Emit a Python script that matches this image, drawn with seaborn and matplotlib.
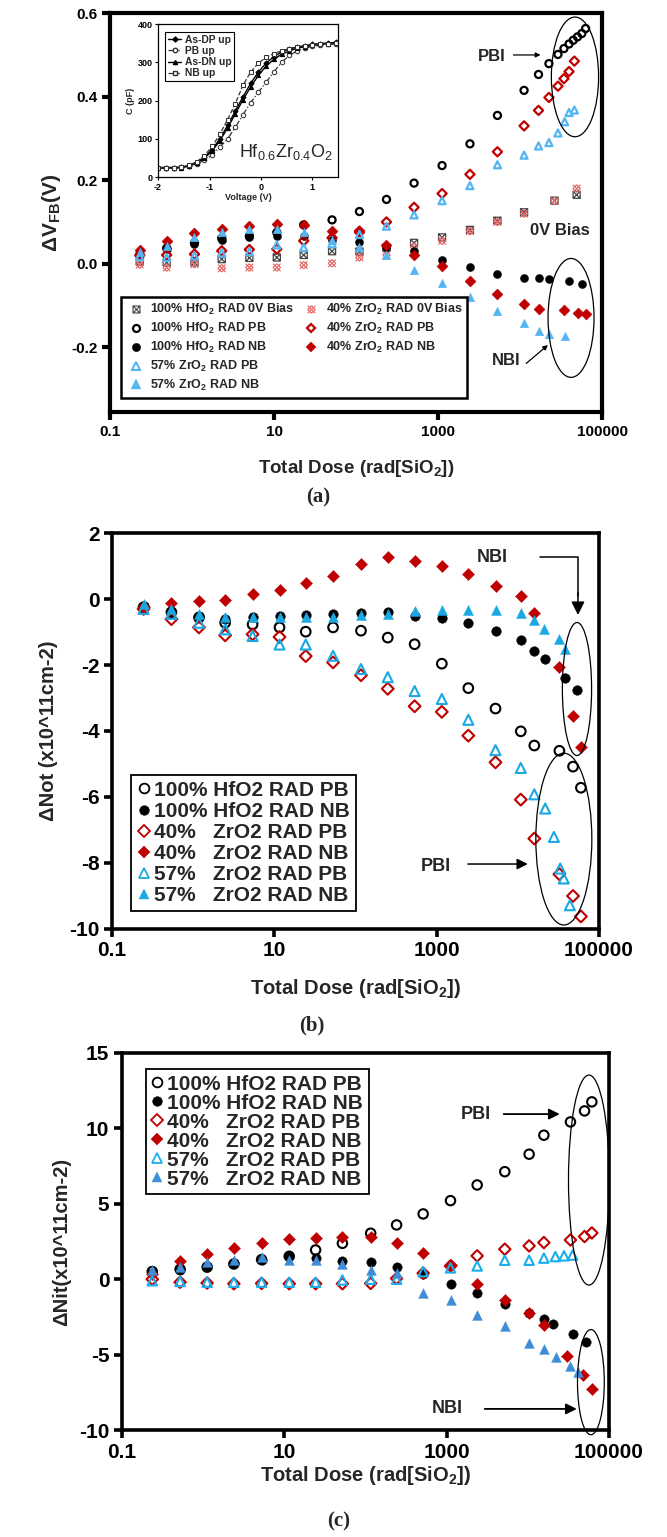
import numpy as np
import pandas as pd
import matplotlib
matplotlib.use('Agg')
import matplotlib.pyplot as plt
import seaborn as sns
from matplotlib.lines import Line2D
from matplotlib.patches import Ellipse
from matplotlib.path import Path
from matplotlib.ticker import FixedLocator, FixedFormatter, FormatStrFormatter, NullLocator

# ---------------- data: panel (a) dVFB ----------------
dose_a = [0.23, 0.49, 1.07, 2.3, 5.0, 10.8, 23, 51, 110, 235, 510, 1120, 2450, 5300, 11200]
dose_a_0v = dose_a + [26300, 49000]
hf_0v_a = [0.005, 0.003, 0.003, 0.011, 0.014, 0.015, 0.021, 0.030, 0.029, 0.038, 0.050, 0.063, 0.081, 0.103, 0.123, 0.151, 0.165]
zr40_0v_a = [-0.002, -0.009, -0.001, -0.011, -0.009, -0.009, -0.003, 0.001, 0.015, 0.021, 0.040, 0.055, 0.078, 0.100, 0.120, 0.150, 0.180]
dose_a_hfpb = dose_a + [16800, 22500, 29000, 34300, 39600, 44600, 50200, 56700, 63000]
hf_pb_a = [0.022, 0.037, 0.05, 0.061, 0.066, 0.075, 0.093, 0.105, 0.125, 0.154, 0.193, 0.235, 0.287, 0.355, 0.415,
           0.453, 0.479, 0.501, 0.515, 0.526, 0.535, 0.543, 0.551, 0.563]
dose_a_hfnb = dose_a + [16800, 22500, 39600, 56700]
hf_nb_a = [0.02, 0.035, 0.047, 0.058, 0.063, 0.067, 0.066, 0.057, 0.053, 0.039, 0.030, 0.009, -0.007, -0.025, -0.033,
           -0.035, -0.037, -0.041, -0.049]
dose_a_zr40pb = dose_a + [16800, 22500, 29000, 34300, 39600, 46000]
zr40_pb_a = [0.020, 0.021, 0.023, 0.031, 0.034, 0.035, 0.055, 0.062, 0.078, 0.100, 0.135, 0.168, 0.214, 0.268, 0.330,
             0.367, 0.398, 0.425, 0.443, 0.460, 0.485]
dose_a_zr40nb = dose_a + [16800, 34300, 51000, 63000]
zr40_nb_a = [0.033, 0.055, 0.074, 0.083, 0.091, 0.095, 0.093, 0.079, 0.077, 0.044, 0.022, -0.005, -0.042, -0.073, -0.097,
             -0.109, -0.111, -0.117, -0.121]
dose_a_zr57pb = dose_a + [16800, 22500, 29000, 35000, 39600, 46000]
zr57_pb_a = [0.017, 0.015, 0.019, 0.026, 0.029, 0.045, 0.039, 0.048, 0.070, 0.090, 0.117, 0.151, 0.187, 0.237, 0.260,
             0.282, 0.290, 0.313, 0.340, 0.362, 0.368]
dose_a_zr57nb = dose_a + [16800, 22500, 35000]
zr57_nb_a = [0.027, 0.043, 0.063, 0.075, 0.082, 0.083, 0.075, 0.058, 0.039, 0.020, -0.015, -0.047, -0.079, -0.113, -0.143,
             -0.161, -0.167, -0.173]

# inset C-V data
volt = [-2.0, -1.85, -1.7, -1.55, -1.4, -1.25, -1.1, -0.95, -0.8, -0.65, -0.5, -0.35, -0.2, -0.05, 0.1, 0.25,
        0.4, 0.55, 0.7, 0.85, 1.0, 1.15, 1.3, 1.45]
cv_asdp = [25, 25, 25, 26, 30, 38, 52, 72, 100, 135, 172, 210, 245, 275, 298, 315, 327, 335, 340, 344, 347, 349, 351, 352]
cv_pb = [24, 24, 24, 25, 28, 34, 44, 58, 78, 100, 130, 163, 195, 222, 248, 275, 300, 318, 330, 337, 342, 345, 347, 348]
cv_asdn = [24, 24, 24, 25, 29, 36, 50, 68, 95, 128, 165, 202, 236, 266, 290, 308, 321, 330, 337, 341, 345, 347, 349, 350]
cv_nb = [25, 25, 25, 26, 31, 40, 56, 80, 112, 150, 192, 240, 275, 298, 313, 323, 330, 336, 340, 344, 346, 348, 349, 350]

# ---------------- data: panel (b) dNot ----------------
dose_b = [0.245, 0.54, 1.18, 2.48, 5.4, 11.6, 24.4, 53, 117, 250, 536, 1160, 2460, 5320, 10900, 16000]
dose_b_hfpb = dose_b + [32600, 48000, 60000]
hf_pb_b = [-0.25, -0.40, -0.56, -0.72, -0.77, -0.86, -0.99, -0.86, -0.96, -1.17, -1.37, -1.96, -2.70, -3.32, -4.01,
           -4.44, -4.60, -5.08, -5.72]
dose_b_hfnb = dose_b + [21800, 37700, 54300]
hf_nb_b = [-0.22, -0.38, -0.52, -0.60, -0.55, -0.50, -0.47, -0.45, -0.42, -0.40, -0.51, -0.58, -0.74, -0.98, -1.25,
           -1.57, -1.83, -2.39, -2.76]
dose_b_zr40 = dose_b + [32600, 48000, 60000]
zr40_pb_b = [-0.30, -0.61, -0.86, -1.10, -1.07, -1.15, -1.73, -1.92, -2.31, -2.72, -3.25, -3.42, -4.14, -4.95, -6.08,
             -7.26, -8.34, -9.00, -9.62]
zr40_nb_b = [-0.23, -0.13, -0.07, -0.02, 0.15, 0.27, 0.48, 0.70, 1.07, 1.27, 1.15, 0.99, 0.76, 0.40, 0.08,
             -0.41, -2.05, -3.55, -4.47]
dose_b_zr57pb = dose_b + [21800, 27900, 33300, 36900, 43900]
zr57_pb_b = [-0.30, -0.45, -0.72, -0.92, -1.12, -1.38, -1.38, -1.72, -2.12, -2.37, -2.79, -3.03, -3.66, -4.58, -5.12,
             -5.92, -6.35, -7.21, -8.17, -8.47, -9.28]
dose_b_zr57nb = dose_b + [21200, 32200, 38200]
zr57_nb_b = [-0.15, -0.31, -0.46, -0.53, -0.54, -0.55, -0.55, -0.54, -0.49, -0.44, -0.37, -0.33, -0.33, -0.33, -0.41,
             -0.63, -0.91, -1.20, -1.50]

# ---------------- data: panel (c) dNit ----------------
dose_c = [0.236, 0.52, 1.12, 2.39, 5.25, 11.5, 24.3, 52, 116, 242, 514, 1117, 2380, 5210, 10400, 15800]
dose_c_hfpb = dose_c + [33600, 50100, 61600]
hf_pb_c = [0.51, 0.66, 0.80, 1.01, 1.30, 1.52, 1.94, 2.38, 3.05, 3.60, 4.33, 5.21, 6.25, 7.13, 8.29, 9.55,
           10.43, 11.16, 11.76]
dose_c_hfnb = dose_c + [20400, 36100, 51600]
hf_nb_c = [0.44, 0.60, 0.85, 1.10, 1.25, 1.55, 1.42, 1.24, 1.17, 0.80, 0.33, -0.33, -0.93, -1.63, -2.25, -2.65,
           -2.96, -3.60, -4.18]
dose_c_zr40pb = dose_c + [33600, 50100, 61600]
zr40_pb_c = [0.00, -0.20, -0.25, -0.30, -0.28, -0.30, -0.30, -0.30, -0.28, 0.05, 0.40, 0.88, 1.55, 1.99, 2.21, 2.43,
             2.60, 2.83, 3.07]
dose_c_zr40nb = dose_c + [30600, 48000, 61600]
zr40_nb_c = [0.35, 1.20, 1.70, 2.05, 2.43, 2.65, 2.73, 2.78, 2.78, 2.43, 1.72, 0.95, -0.30, -1.40, -2.23, -3.06,
             -5.08, -6.35, -7.30]
dose_c_zr57pb = dose_c + [21900, 28000, 35700]
zr57_pb_c = [-0.10, -0.15, -0.20, -0.20, -0.20, -0.20, -0.20, -0.05, 0.00, 0.00, 0.50, 0.75, 0.88, 1.26, 1.26, 1.40,
             1.50, 1.55, 1.60]
dose_c_zr57nb = dose_c + [22400, 33600, 41300]
zr57_nb_c = [0.62, 0.80, 1.17, 1.28, 1.46, 1.28, 1.28, 1.02, 0.62, 0.40, -0.90, -1.35, -2.35, -3.08, -4.20, -4.62,
             -5.16, -5.76, -6.18]

x_ticks = [0.1, 10, 1000, 100000]
x_tick_labels = ['0.1', '10', '1000', '100000']

# ---------------- styling ----------------
sns.set_theme(style='ticks')
plt.rcParams['font.family'] = ['Liberation Sans', 'DejaVu Sans']
plt.rcParams['font.weight'] = 'bold'
plt.rcParams['axes.unicode_minus'] = False
plt.rcParams['mathtext.default'] = 'regular'

RED = '#C00000'
RED_HATCH = '#E46A6A'
BLUE_A = '#55B5F2'
BLUE_B = '#1AA8E2'
BLUE_C_PB = '#1AAEEC'
BLUE_C_NB = '#3E8DD6'
GRAY = '#444444'

MV, LN = Path.MOVETO, Path.LINETO
BOX_X = Path([(-1, -1), (1, -1), (1, 1), (-1, 1), (-1, -1), (-1, -1), (1, 1), (-1, 1), (1, -1)],
             [MV, LN, LN, LN, LN, MV, LN, MV, LN])
XHATCH = Path([(-1, -1), (1, 1), (-1, 1), (1, -1), (-1, 0), (0, 1), (0, -1), (1, 0), (-1, 0), (0, -1), (0, 1), (1, 0)],
              [MV, LN, MV, LN, MV, LN, MV, LN, MV, LN, MV, LN])


def dots(ax, x, y, marker, color, filled, size, lw=1.3, z=3):
    if filled:
        sns.scatterplot(x=x, y=y, ax=ax, marker=marker, s=size, color=color, edgecolor=color,
                        linewidth=0.3, zorder=z, legend=False)
    else:
        sns.scatterplot(x=x, y=y, ax=ax, marker=marker, s=size, color=color, facecolor='none',
                        edgecolor=color, linewidth=lw, zorder=z, legend=False)


def handle(marker, color, filled, ms, label, mew=1.3):
    return Line2D([], [], linestyle='none', marker=marker, markersize=ms,
                  markerfacecolor=color if filled else 'none', markeredgecolor=color,
                  markeredgewidth=0.3 if filled else mew, label=label)


def style(ax, lw, tick_fs, ticklen):
    ax.set_xscale('log')
    ax.set_xlim(0.1, 1e5)
    ax.xaxis.set_major_locator(FixedLocator(x_ticks))
    ax.xaxis.set_major_formatter(FixedFormatter(x_tick_labels))
    ax.xaxis.set_minor_locator(NullLocator())
    ax.yaxis.set_minor_locator(NullLocator())
    for sp in ax.spines.values():
        sp.set_visible(True)
        sp.set_linewidth(lw)
        sp.set_color('black')
    ax.tick_params(direction='out', length=ticklen, width=lw, labelsize=tick_fs, colors='black', pad=3)
    ax.set_facecolor('white')


def ellipse(ax, cx, cy, w, h):
    ax.add_patch(Ellipse((cx, cy), w, h, transform=ax.transAxes, fill=False,
                         edgecolor='black', lw=0.9, clip_on=False, zorder=5))


def arrow(ax, x0, y0, x1, y1, lw=1.0, ms=10):
    ax.annotate('', xy=(x1, y1), xytext=(x0, y0), xycoords='axes fraction', textcoords='axes fraction',
                arrowprops=dict(arrowstyle='-|>', color='black', lw=lw, mutation_scale=ms, shrinkA=0, shrinkB=0))


fig = plt.figure(figsize=(6.67, 15.37), dpi=100)
fig.patch.set_facecolor('white')

# ================= panel (a) =================
axA = fig.add_axes([0.165, 0.7319, 0.7376, 0.2596])
sA = 26
dots(axA, dose_a_0v, hf_0v_a, BOX_X, GRAY, False, sA, lw=0.9)
dots(axA, dose_a_0v, zr40_0v_a, XHATCH, RED_HATCH, False, sA + 4, lw=0.8)
dots(axA, dose_a_hfpb, hf_pb_a, 'o', 'black', False, sA, lw=1.6)
dots(axA, dose_a_hfnb, hf_nb_a, 'o', 'black', True, sA + 8)
dots(axA, dose_a_zr40pb, zr40_pb_a, 'D', RED, False, sA - 4, lw=1.6)
dots(axA, dose_a_zr40nb, zr40_nb_a, 'D', RED, True, sA + 6)
dots(axA, dose_a_zr57pb, zr57_pb_a, '^', BLUE_A, False, sA, lw=1.6)
dots(axA, dose_a_zr57nb, zr57_nb_a, '^', BLUE_A, True, sA + 12)
style(axA, 3.0, 11, 6)
axA.set_ylim(-0.355, 0.6)
axA.yaxis.set_major_locator(FixedLocator([-0.2, 0.0, 0.2, 0.4, 0.6]))
axA.yaxis.set_major_formatter(FormatStrFormatter('%.1f'))
axA.set_xlabel('Total Dose (rad[SiO$_2$])', fontsize=13.5, fontweight='bold', labelpad=14)
axA.set_ylabel('\u0394V$_{FB}$(V)', fontsize=15, fontweight='bold', labelpad=6)

blank = Line2D([], [], linestyle='none', label=' ')
hA = [handle(BOX_X, GRAY, False, 5, '100% HfO$_2$ RAD 0V Bias', mew=0.8),
      handle('o', 'black', False, 5, '100% HfO$_2$ RAD PB', mew=1.6),
      handle('o', 'black', True, 6, '100% HfO$_2$ RAD NB'),
      handle('^', BLUE_A, False, 5.5, '57% ZrO$_2$ RAD PB', mew=1.5),
      handle('^', BLUE_A, True, 6.5, '57% ZrO$_2$ RAD NB'),
      handle(XHATCH, RED_HATCH, False, 5.5, '40% ZrO$_2$ RAD 0V Bias', mew=0.8),
      handle('D', RED, False, 4.5, '40% ZrO$_2$ RAD PB', mew=1.6),
      handle('D', RED, True, 5.5, '40% ZrO$_2$ RAD NB'),
      blank, blank]
legA = axA.legend(handles=hA, ncol=2, loc='lower left', bbox_to_anchor=(0.01, 0.02), fontsize=9.0,
                  frameon=True, fancybox=False, edgecolor='black', framealpha=1, handletextpad=0.4,
                  labelspacing=0.3, columnspacing=0.6, borderpad=0.4, handlelength=1.5)
legA.get_frame().set_linewidth(1.8)

axA.text(0.775, 0.89, 'PBI', transform=axA.transAxes, ha='center', va='center', fontsize=12, fontweight='bold')
arrow(axA, 0.82, 0.895, 0.875, 0.895, lw=0.9, ms=7)
ellipse(axA, 0.945, 0.84, 0.096, 0.30)
axA.text(0.915, 0.456, '0V Bias', transform=axA.transAxes, ha='center', va='center', fontsize=12, fontweight='bold')
axA.text(0.805, 0.13, 'NBI', transform=axA.transAxes, ha='center', va='center', fontsize=12, fontweight='bold')
arrow(axA, 0.846, 0.122, 0.89, 0.168, lw=0.9, ms=7)
ellipse(axA, 0.937, 0.236, 0.0935, 0.298)

# inset
axI = fig.add_axes([0.237, 0.8848, 0.27, 0.0995])
axI.set_facecolor('white')
sns.lineplot(x=volt, y=cv_asdp, ax=axI, color='black', lw=1.0, marker='D', markersize=2.6,
             markerfacecolor='black', markeredgecolor='black', linestyle='-')
sns.lineplot(x=volt, y=cv_pb, ax=axI, color='#333333', lw=0.9, marker='o', markersize=3.2,
             markerfacecolor='white', markeredgecolor='#333333', linestyle='-.')
sns.lineplot(x=volt, y=cv_asdn, ax=axI, color='black', lw=1.0, marker='^', markersize=3,
             markerfacecolor='black', markeredgecolor='black', linestyle='-')
sns.lineplot(x=volt, y=cv_nb, ax=axI, color='#333333', lw=0.9, marker='s', markersize=3,
             markerfacecolor='white', markeredgecolor='#333333', linestyle='--')
axI.set_xlim(-2, 1.5)
axI.set_ylim(0, 400)
axI.xaxis.set_major_locator(FixedLocator([-2, -1, 0, 1]))
axI.yaxis.set_major_locator(FixedLocator([0, 100, 200, 300, 400]))
for sp in axI.spines.values():
    sp.set_visible(True)
    sp.set_linewidth(0.9)
    sp.set_color('black')
axI.tick_params(direction='out', length=2.5, width=0.8, labelsize=6.5, colors='black', pad=1.5)
axI.set_xlabel('Voltage (V)', fontsize=6.5, fontweight='bold', labelpad=1)
axI.set_ylabel('C (pF)', fontsize=6.5, fontweight='bold', labelpad=2)
hI = [Line2D([], [], color='black', lw=1.0, marker='D', markersize=2.6, label='As-DP up'),
      Line2D([], [], color='#333333', lw=0.9, ls='-.', marker='o', markersize=3.2, markerfacecolor='white', label='PB up'),
      Line2D([], [], color='black', lw=1.0, marker='^', markersize=3, label='As-DN up'),
      Line2D([], [], color='#333333', lw=0.9, ls='--', marker='s', markersize=3, markerfacecolor='white', label='NB up')]
legI = axI.legend(handles=hI, loc='upper left', bbox_to_anchor=(0.01, 0.985), fontsize=7.4, frameon=True,
                  fancybox=False, edgecolor='black', framealpha=1, handlelength=1.3, handletextpad=0.3,
                  labelspacing=0.12, borderpad=0.3)
legI.get_frame().set_linewidth(0.8)
axI.text(0.97, 0.1, 'Hf$_{0.6}$Zr$_{0.4}$O$_2$', transform=axI.transAxes, ha='right', va='bottom',
         fontsize=13, fontweight='normal')

# ================= panel (b) =================
axB = fig.add_axes([0.1679, 0.3956, 0.730, 0.2576])
sB = 48
dots(axB, dose_b_hfpb, hf_pb_b, 'o', 'black', False, sB, lw=1.5)
dots(axB, dose_b_hfnb, hf_nb_b, 'o', 'black', True, sB)
dots(axB, dose_b_zr40, zr40_pb_b, 'D', RED, False, sB - 12, lw=1.5)
dots(axB, dose_b_zr40, zr40_nb_b, 'D', RED, True, sB - 10)
dots(axB, dose_b_zr57pb, zr57_pb_b, '^', BLUE_B, False, sB + 4, lw=1.5)
dots(axB, dose_b_zr57nb, zr57_nb_b, '^', BLUE_B, True, sB + 4)
style(axB, 2.6, 15, 6)
axB.set_ylim(-10, 2)
axB.yaxis.set_major_locator(FixedLocator([-10, -8, -6, -4, -2, 0, 2]))
axB.set_xlabel('Total Dose (rad[SiO$_2$])', fontsize=14.5, fontweight='bold', labelpad=12)
axB.set_ylabel('\u0394Not (x10^11cm-2)', fontsize=14.5, fontweight='bold', labelpad=8)
hB = [handle('o', 'black', False, 7, '100% HfO2 RAD PB', mew=1.3),
      handle('o', 'black', True, 7, '100% HfO2 RAD NB'),
      handle('D', RED, False, 6, '40%   ZrO2 RAD PB', mew=1.3),
      handle('D', RED, True, 6, '40%   ZrO2 RAD NB'),
      handle('^', BLUE_B, False, 7, '57%   ZrO2 RAD PB', mew=1.3),
      handle('^', BLUE_B, True, 7, '57%   ZrO2 RAD NB')]
legB = axB.legend(handles=hB, loc='lower left', bbox_to_anchor=(0.018, 0.018), fontsize=15, frameon=True,
                  fancybox=False, edgecolor='black', framealpha=1, handlelength=0.6, handletextpad=0.2,
                  labelspacing=0.1, borderpad=0.3)
legB.get_frame().set_linewidth(1.3)
axB.text(0.78, 0.937, 'NBI', transform=axB.transAxes, ha='center', va='center', fontsize=13, fontweight='bold')
axB.plot([0.879, 0.957, 0.957], [0.939, 0.939, 0.84], transform=axB.transAxes, color='black', lw=1.1,
         clip_on=False, zorder=5)
arrow(axB, 0.957, 0.85, 0.957, 0.793, lw=1.1, ms=20)
ellipse(axB, 0.955, 0.606, 0.06, 0.336)
axB.text(0.665, 0.159, 'PBI', transform=axB.transAxes, ha='center', va='center', fontsize=13, fontweight='bold')
arrow(axB, 0.731, 0.164, 0.854, 0.164, lw=1.1, ms=16)
ellipse(axB, 0.928, 0.227, 0.115, 0.434)

# ================= panel (c) =================
axC = fig.add_axes([0.1829, 0.0696, 0.730, 0.2453])
sC = 46
dots(axC, dose_c_hfpb, hf_pb_c, 'o', 'black', False, sC, lw=1.5)
dots(axC, dose_c_hfnb, hf_nb_c, 'o', 'black', True, sC)
dots(axC, dose_c_zr40pb, zr40_pb_c, 'D', RED, False, sC - 12, lw=1.5)
dots(axC, dose_c_zr40nb, zr40_nb_c, 'D', RED, True, sC - 8)
dots(axC, dose_c_zr57pb, zr57_pb_c, '^', BLUE_C_PB, False, sC, lw=1.5)
dots(axC, dose_c_zr57nb, zr57_nb_c, '^', BLUE_C_NB, True, sC + 4)
style(axC, 2.6, 15, 6)
axC.set_ylim(-10, 15)
axC.yaxis.set_major_locator(FixedLocator([-10, -5, 0, 5, 10, 15]))
axC.set_xlabel('Total Dose (rad[SiO$_2$])', fontsize=14.5, fontweight='bold', labelpad=2)
axC.set_ylabel('\u0394Nit(x10^11cm-2)', fontsize=14.5, fontweight='bold', labelpad=6)
hC = [handle('o', 'black', False, 7, '100% HfO2 RAD PB', mew=1.3),
      handle('o', 'black', True, 7, '100% HfO2 RAD NB'),
      handle('D', RED, False, 6, '40%   ZrO2 RAD PB', mew=1.3),
      handle('D', RED, True, 6, '40%   ZrO2 RAD NB'),
      handle('^', BLUE_C_PB, False, 7, '57%   ZrO2 RAD PB', mew=1.3),
      handle('^', BLUE_C_NB, True, 7, '57%   ZrO2 RAD NB')]
legC = axC.legend(handles=hC, loc='upper left', bbox_to_anchor=(0.027, 0.984), fontsize=15, frameon=True,
                  fancybox=False, edgecolor='black', framealpha=1, handlelength=0.6, handletextpad=0.2,
                  labelspacing=0.0, borderpad=0.25)
legC.get_frame().set_linewidth(1.3)
axC.text(0.727, 0.838, 'PBI', transform=axC.transAxes, ha='center', va='center', fontsize=13, fontweight='bold')
arrow(axC, 0.784, 0.838, 0.899, 0.838, lw=1.3, ms=16)
ellipse(axC, 0.959, 0.663, 0.084, 0.557)
axC.text(0.669, 0.056, 'NBI', transform=axC.transAxes, ha='center', va='center', fontsize=13, fontweight='bold')
arrow(axC, 0.745, 0.056, 0.934, 0.056, lw=1.3, ms=16)
ellipse(axC, 0.963, 0.127, 0.055, 0.279)

# captions
fig.text(0.477, 1 - 497 / 1537, '(a)', ha='center', va='center', fontsize=15, fontweight='bold',
         family=['Liberation Serif', 'DejaVu Serif'])
fig.text(0.468, 1 - 1025 / 1537, '(b)', ha='center', va='center', fontsize=15, fontweight='bold',
         family=['Liberation Serif', 'DejaVu Serif'])
fig.text(0.507, 1 - 1521 / 1537, '(c)', ha='center', va='center', fontsize=15, fontweight='bold',
         family=['Liberation Serif', 'DejaVu Serif'])

fig.savefig('out.png', dpi=100, facecolor='white')
